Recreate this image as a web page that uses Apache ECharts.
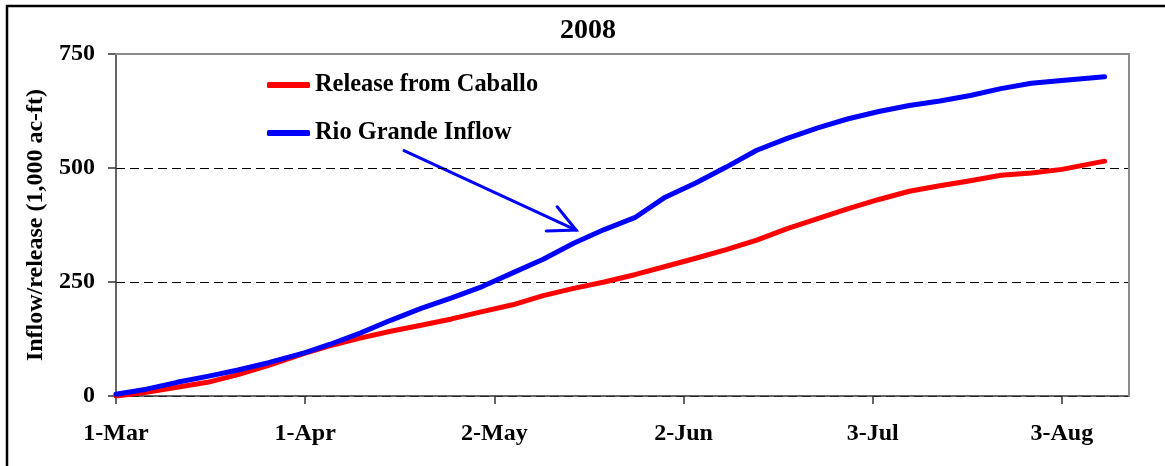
<!DOCTYPE html>
<html>
<head>
<meta charset="utf-8">
<title>2008</title>
<script src="https://cdn.jsdelivr.net/npm/echarts@6/dist/echarts.min.js"></script>
<style>
  html, body { margin: 0; padding: 0; background: #fff; }
  #chart { width: 1165px; height: 466px; }
</style>
</head>
<body>
<div id="chart"></div>
<script>
// days counted from 1-Mar-2008, values in 1,000 ac-ft
const days = [0, 5, 10, 15, 20, 25, 31, 35, 40, 45, 50, 55, 60, 65, 70, 75, 80, 85, 90, 95,
  100, 105, 110, 115, 120, 125, 130, 135, 140, 145, 150, 155, 162];
const release = [0, 8, 19, 30, 47, 67, 94, 110, 127, 142, 155, 169, 185, 200, 220, 236, 250, 266, 284, 302,
  321, 342, 367, 389, 411, 431, 449, 461, 472, 484, 489, 497, 515];
const inflow = [4, 15, 30, 43, 57, 73, 95, 113, 138, 166, 192, 215, 240, 270, 300, 335, 365, 391, 436, 467,
  502, 539, 565, 588, 608, 624, 637, 647, 659, 674, 686, 692, 700];

const xTickDays = [0, 31, 62, 93, 124, 155];
const xTickLabels = ['1-Mar', '1-Apr', '2-May', '2-Jun', '3-Jul', '3-Aug'];
const yTicks = [0, 250, 500, 750];

// arrow pointing at the inflow line, in [day, value]
const arrowShaft = [[47.2, 538], [75.4, 364]];
const arrowHead = [[72.3, 415], [75.4, 364], [70.5, 362]];

const font = "'Liberation Serif', 'Times New Roman', serif";

const chart = echarts.init(document.getElementById('chart'));

const option = {
  animation: false,
  color: ['#ff0000', '#0000ff'],
  grid: { left: 116, right: 36, top: 54, bottom: 70 },
  legend: {
    orient: 'vertical',
    left: 267,
    top: 73,
    padding: 0,
    itemWidth: 43,
    itemHeight: 6,
    itemGap: 24,
    icon: 'roundRect',
    textStyle: { fontFamily: font, fontWeight: 'bold', fontSize: 24.4, color: '#000' },
    data: ['Release from Caballo', 'Rio Grande Inflow']
  },
  xAxis: [{
    type: 'value',
    min: 0,
    max: 166,
    interval: 31,
    axisLine: { lineStyle: { color: '#333', width: 1.5 } },
    axisTick: { show: true, length: 8, customValues: xTickDays, lineStyle: { color: '#333', width: 1.5 } },
    axisLabel: {
      customValues: xTickDays,
      margin: 26,
      fontFamily: font, fontWeight: 'bold', fontSize: 24, color: '#000',
      formatter: v => xTickLabels[xTickDays.indexOf(v)] || ''
    },
    splitLine: { show: false }
  }, {
    // gray frame along the top of the plot
    type: 'value', position: 'top', z: 5,
    axisLine: { show: true, onZero: false, lineStyle: { color: '#8c8c8c', width: 2 } },
    axisTick: { show: false }, axisLabel: { show: false }, splitLine: { show: false }
  }],
  yAxis: [{
    type: 'value',
    min: 0,
    max: 750,
    interval: 250,
    name: 'Inflow/release (1,000 ac-ft)',
    nameLocation: 'middle',
    nameRotate: 90,
    nameGap: 68,
    nameTextStyle: { fontFamily: font, fontWeight: 'bold', fontSize: 24, color: '#000' },
    axisLine: { show: true, lineStyle: { color: '#333', width: 1.5 } },
    axisTick: { show: true, length: 8, lineStyle: { color: '#333', width: 1.5 } },
    axisLabel: {
      margin: 21,
      fontFamily: font, fontWeight: 'bold', fontSize: 24, color: '#000',
      formatter: v => yTicks.includes(v) ? String(v) : ''
    },
    splitLine: { show: true, lineStyle: { color: '#000', width: 1, type: [9, 5] } }
  }, {
    // gray frame along the right of the plot
    type: 'value', position: 'right', z: 5,
    axisLine: { show: true, onZero: false, lineStyle: { color: '#8c8c8c', width: 2 } },
    axisTick: { show: false }, axisLabel: { show: false }, splitLine: { show: false }
  }],
  series: [{
    name: 'Release from Caballo',
    type: 'line',
    showSymbol: false,
    symbol: 'none',
    lineStyle: { width: 5, cap: 'round', join: 'round' },
    data: days.map((d, i) => [d, release[i]])
  }, {
    name: 'Rio Grande Inflow',
    type: 'line',
    showSymbol: false,
    symbol: 'none',
    lineStyle: { width: 5, cap: 'round', join: 'round' },
    data: days.map((d, i) => [d, inflow[i]])
  }],
  graphic: [{
    id: 'frame',
    type: 'rect',
    shape: { x: 7, y: 6, width: 1170, height: 480 },
    style: { fill: null, stroke: '#000', lineWidth: 2.5 },
    silent: true
  }, {
    id: 'title',
    type: 'text',
    x: 588,
    y: 31,
    style: {
      text: '2008', fontFamily: font, fontWeight: 'bold', fontSize: 28, fill: '#000',
      align: 'center', verticalAlign: 'middle'
    }
  }]
};

chart.setOption(option);

const toPx = p => chart.convertToPixel({ gridIndex: 0 }, p);
chart.setOption({
  graphic: [{
    id: 'arrowShaft',
    type: 'polyline',
    shape: { points: arrowShaft.map(toPx) },
    style: { stroke: '#0000ff', lineWidth: 3, fill: null, lineCap: 'round' },
    silent: true
  }, {
    id: 'arrowHead',
    type: 'polyline',
    shape: { points: arrowHead.map(toPx) },
    style: { stroke: '#0000ff', lineWidth: 3, fill: null, lineCap: 'round', lineJoin: 'miter' },
    silent: true
  }]
});
</script>
</body>
</html>
